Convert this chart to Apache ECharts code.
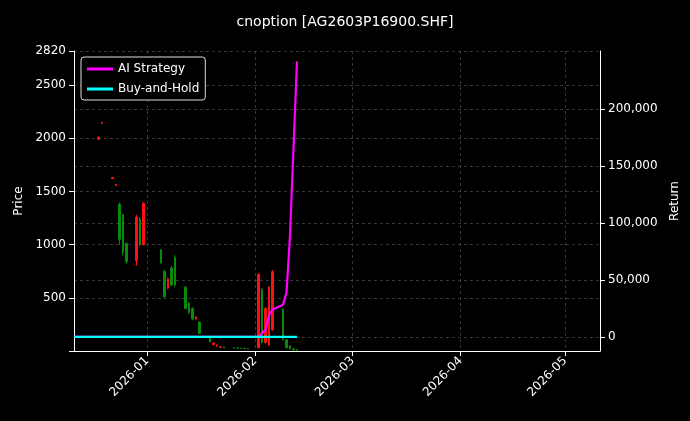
<!DOCTYPE html>
<html>
<head>
<meta charset="utf-8">
<title>cnoption</title>
<style>
	html, body { margin: 0; padding: 0; background: #000; }
	#chart { width: 690px; height: 421px; }
</style>
</head>
<body>
<div id="chart"></div>
<script src="https://cdn.jsdelivr.net/npm/echarts@6/dist/echarts.min.js"></script>
<script>
// candles: date, open, close, low, high
var candleDates = ['2025-12-18', '2025-12-19', '2025-12-22', '2025-12-23', '2025-12-24', '2025-12-25', '2025-12-26',
	'2025-12-29', '2025-12-30', '2025-12-31', '2026-01-05', '2026-01-06', '2026-01-07', '2026-01-08', '2026-01-09',
	'2026-01-12', '2026-01-13', '2026-01-14', '2026-01-15', '2026-01-16', '2026-01-19', '2026-01-20', '2026-01-21',
	'2026-01-22', '2026-01-23', '2026-01-26', '2026-01-27', '2026-01-28', '2026-01-29', '2026-01-30',
	'2026-02-02', '2026-02-03', '2026-02-04', '2026-02-05', '2026-02-06', '2026-02-09', '2026-02-10', '2026-02-11',
	'2026-02-12', '2026-02-13'];
var opens = [1990, 2140, 1620, 1555, 1380, 1280, 1010, 850, 1240, 1000, 950, 750, 590, 780, 880,
	600, 450, 400, 300, 270, 130, 60, 45, 35, 38, 30, 28, 25, 24, 22,
	30, 575, 80, 55, 200, 390, 105, 50, 20, 12];
var closes = [2010, 2150, 1630, 1565, 1050, 930, 840, 1260, 1000, 1390, 830, 510, 680, 620, 620,
	400, 360, 300, 320, 165, 85, 75, 58, 40, 30, 28, 25, 24, 22, 20,
	720, 80, 400, 600, 745, 110, 30, 20, 10, 8];
var lows = [1985, 2135, 1615, 1550, 1000, 900, 820, 800, 990, 990, 820, 500, 580, 610, 600,
	390, 350, 290, 295, 160, 80, 55, 42, 32, 28, 24, 22, 20, 18, 16,
	25, 70, 70, 50, 190, 100, 25, 15, 8, 5];
var highs = [2015, 2155, 1635, 1570, 1396, 1290, 1020, 1280, 1260, 1400, 960, 760, 690, 800, 900,
	610, 460, 410, 325, 280, 140, 80, 60, 42, 40, 32, 30, 28, 26, 24,
	730, 590, 410, 610, 760, 400, 110, 55, 25, 15];

var returnDates = ['2025-12-11', '2025-12-12', '2025-12-15', '2025-12-16', '2025-12-17'].concat(candleDates);
var aiReturn = [0, 0, 0, 0, 0, 0, 0, 0, 0, 0, 0, 0, 0, 0, 0, 0, 0, 0, 0, 0,
	0, 0, 0, 0, 0, 0, 0, 0, 0, 0, 0, 0, 0, 0, 0,
	0, 3500, 6200, 19500, 24000, 28300, 39000, 88500, 165000, 242000];
var holdReturn = returnDates.map(function() { return 0; });

var monthTicks = ['2026-01-01', '2026-02-01', '2026-03-01', '2026-04-01', '2026-05-01'];

var ts = function(d) { return Date.UTC(+d.slice(0, 4), +d.slice(5, 7) - 1, +d.slice(8, 10)); };
var candleData = candleDates.map(function(d, i) {
	return [ts(d), opens[i], closes[i], lows[i], highs[i]];
});
var aiData = returnDates.map(function(d, i) { return [ts(d), aiReturn[i]]; });
var holdData = returnDates.map(function(d, i) { return [ts(d), holdReturn[i]]; });
var tickVals = monthTicks.map(ts);

var gridLine = { show: true, lineStyle: { color: '#444', type: [3, 3], width: 0.8 } };
var font = 'DejaVu Sans';

var myChart = echarts.init(document.getElementById('chart'));
myChart.setOption({
	backgroundColor: '#000',
	animation: false,
	textStyle: { fontFamily: font },
	title: {
		text: 'cnoption [AG2603P16900.SHF]',
		left: 'center', top: 10,
		textStyle: { color: '#fff', fontSize: 14, fontWeight: 'normal', fontFamily: font }
	},
	legend: {
		data: ['AI Strategy', 'Buy-and-Hold'],
		orient: 'vertical',
		left: 81, top: 57,
		icon: 'rect', itemWidth: 26, itemHeight: 3, itemGap: 8,
		padding: [6, 6, 5, 6],
		borderColor: '#ddd', borderWidth: 1, borderRadius: 3,
		backgroundColor: '#000',
		textStyle: { color: '#fff', fontSize: 12, fontFamily: font }
	},
	grid: { left: 74, right: 90, top: 51, bottom: 70 },
	xAxis: {
		type: 'value',
		min: ts('2025-12-11'), max: ts('2026-05-11'),
		axisLine: { lineStyle: { color: '#fff' } },
		axisTick: { customValues: tickVals, lineStyle: { color: '#fff' } },
		axisLabel: {
			customValues: tickVals, rotate: 45, color: '#fff', fontSize: 12, fontFamily: font,
			formatter: function(v) {
				var d = new Date(v);
				var m = d.getUTCMonth() + 1;
				return d.getUTCFullYear() + '-' + (m < 10 ? '0' + m : m);
			}
		},
		splitLine: gridLine
	},
	yAxis: [{
		type: 'value', name: 'Price', nameLocation: 'middle', nameGap: 45,
		nameTextStyle: { color: '#fff', fontSize: 12 },
		min: 0, max: 2820, interval: 500,
		axisLine: { show: true, lineStyle: { color: '#fff' } },
		axisTick: { show: true },
		axisLabel: { color: '#fff', fontSize: 12, formatter: function(v) { return v === 0 ? '' : v; } },
		splitLine: gridLine
	}, {
		type: 'value', name: 'Return', nameLocation: 'middle', nameGap: 62,
		nameTextStyle: { color: '#fff', fontSize: 12 },
		min: -12400, max: 251300,
		axisLine: { show: true, lineStyle: { color: '#fff' } },
		axisTick: { show: true, customValues: [0, 50000, 100000, 150000, 200000] },
		axisLabel: { color: '#fff', fontSize: 12, customValues: [0, 50000, 100000, 150000, 200000] },
		splitLine: gridLine
	}],
	series: [{
		name: 'Price', type: 'candlestick', yAxisIndex: 0,
		barWidth: 2,
		itemStyle: { color: '#ff1010', color0: '#0a8a0a', borderColor: '#ff1010', borderColor0: '#0a8a0a', borderWidth: 1 },
		data: candleData
	}, {
		name: 'AI Strategy', type: 'line', yAxisIndex: 1, symbol: 'none',
		lineStyle: { color: '#ff00ff', width: 2.2 }, itemStyle: { color: '#ff00ff' },
		data: aiData
	}, {
		name: 'Buy-and-Hold', type: 'line', yAxisIndex: 1, symbol: 'none',
		lineStyle: { color: '#00ffff', width: 2.2 }, itemStyle: { color: '#00ffff' },
		data: holdData
	}]
});
</script>
</body>
</html>
